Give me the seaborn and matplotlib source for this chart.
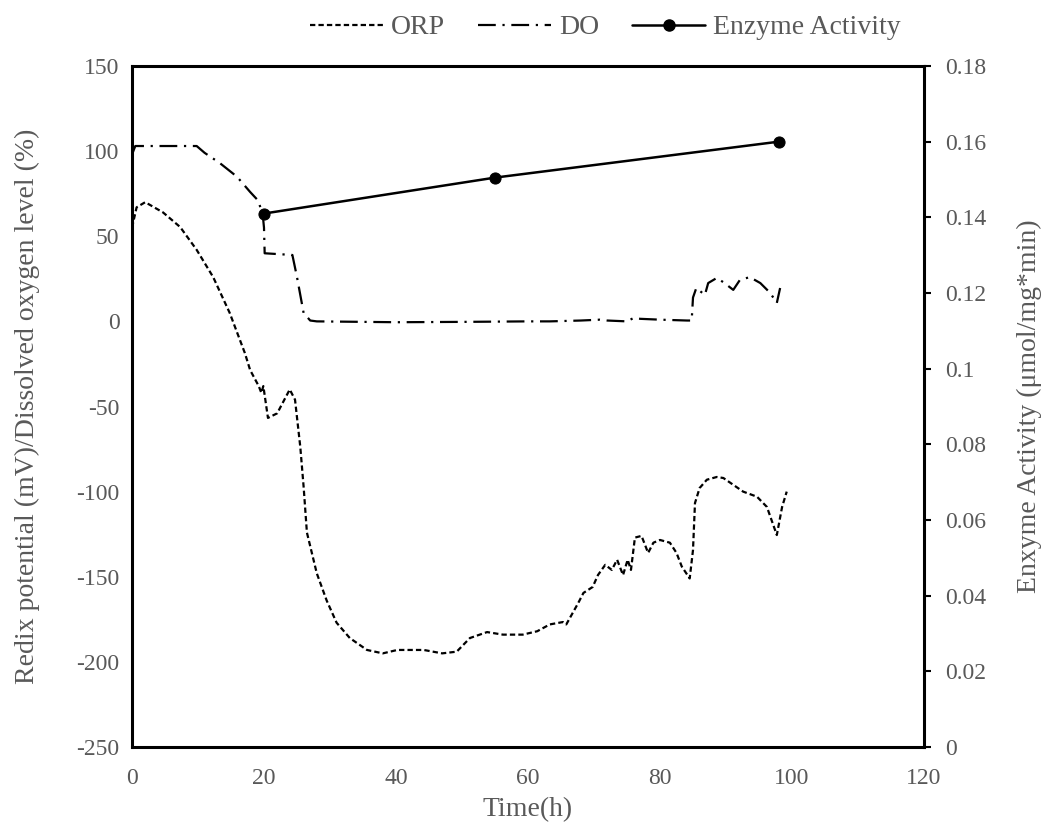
import matplotlib
matplotlib.use("Agg")
import matplotlib.pyplot as plt
import seaborn as sns
import numpy as np
from matplotlib.lines import Line2D

# ---- data ----
orp_t = [0, 0.7, 2, 4.7, 7.3, 9.8, 12.3, 14.8, 17.1, 17.9, 19.2, 19.6, 19.9, 20.6, 22, 23.9, 24.7, 25.5, 26, 26.5,
         28, 29.5, 31, 33, 35.6, 38, 40.2, 44.2, 47, 49.2, 51.2, 53.8, 56.2, 59.2, 61.4, 63.3, 65.3, 65.8, 67.6, 68.4,
         69.8, 70.6, 71.7, 72.7, 73.5, 74.4, 75.1, 75.6, 76.2, 77.2, 78.2, 79, 80, 81.5, 82.5, 83.3, 84.5, 85, 85.3, 86,
         87.1, 88.6, 89.6, 91.1, 92.6, 94.7, 96.2, 97.7, 98.5, 99.2]
orp_v = [55, 67, 70, 64, 55.4, 42, 26, 5, -18.6, -28.6, -38, -42, -38, -56.7, -54, -40, -46, -73.8, -97, -124,
         -148, -164, -177, -186, -193, -195, -193, -193, -195, -194, -186, -182.5, -184, -184, -182, -178, -176.6, -178, -165.5, -159.5,
         -156, -149, -143, -146, -140, -149, -140, -146, -127, -126, -136, -130, -128.4, -130, -136, -144, -151, -134.3, -106.7, -97.9,
         -93, -91.4, -92, -96, -100, -103, -109, -125.5, -109, -100]

do_t = [0, 0.5, 9.8, 11, 13.3, 15.9, 17.9, 19.1, 19.8, 20, 20.1, 24.3, 25, 26, 27, 28, 40, 50, 60, 63.3,
        68, 70.9, 72, 75, 76, 77, 80, 84.1, 84.8, 85, 85.5, 86.8, 87.3, 88.6, 89.6, 91.1, 92.1, 93.6, 95.2, 96.7,
        97.7, 98.2]
do_v = [98, 103, 103, 99, 93, 85, 76, 71, 63, 55, 40, 39, 26, 5, 0.5, 0, -0.5, -0.3, 0, 0,
        0.5, 1, 0.5, 0, 2, 1.5, 1, 0.5, 0.5, 14, 19.6, 15.5, 22.5, 25.5, 23, 18.5, 24.3, 26, 22.5, 16.7,
        10.8, 19.6]

enz_t = [20, 55, 98]
enz_v = [0.141, 0.1505, 0.160]

x_ticks = [0, 20, 40, 60, 80, 100, 120]
left_ticks = [150, 100, 50, 0, -50, -100, -150, -200, -250]
right_ticks = [0, 0.02, 0.04, 0.06, 0.08, 0.1, 0.12, 0.14, 0.16, 0.18]
right_labels = ["0", "0.02", "0.04", "0.06", "0.08", "0.1", "0.12", "0.14", "0.16", "0.18"]

# ---- style ----
sns.set_style("white")
plt.rcParams['font.family'] = ['Liberation Serif', 'DejaVu Serif']
gray = "#595959"

fig = plt.figure(figsize=(10.44, 8.3), dpi=100)
ax = fig.add_axes([132/1044, 83/830, (924-132)/1044, (747-66)/830])
ax2 = ax.twinx()

sns.lineplot(x=orp_t, y=orp_v, ax=ax, estimator=None, sort=False, color="black", lw=1.6)
ax.lines[-1].set_dashes((2.4, 1.4))
sns.lineplot(x=do_t, y=do_v, ax=ax, estimator=None, sort=False, color="black", lw=1.6)
ax.lines[-1].set_dashes((8, 3, 1, 3))
sns.lineplot(x=enz_t, y=enz_v, ax=ax2, estimator=None, sort=False, color="black", lw=1.8,
             marker="o", markersize=8, markeredgecolor="black")

ax.set_xlim(0, 120)
ax.set_ylim(-250, 150)
ax2.set_ylim(0, 0.18)
ax.set_xticks(x_ticks)
ax.set_xticklabels([str(v) for v in x_ticks])
ax.set_yticks(left_ticks)
ax.set_yticklabels([str(v) for v in left_ticks])
ax2.set_yticks(right_ticks)
ax2.set_yticklabels(right_labels)

for a in (ax, ax2):
    for s in a.spines.values():
        s.set_visible(False)
ax.spines['left'].set_visible(True)
ax.spines['bottom'].set_visible(True)
ax2.spines['right'].set_visible(True)
ax2.spines['top'].set_visible(True)
for s in (ax.spines['left'], ax.spines['bottom'], ax2.spines['right'], ax2.spines['top']):
    s.set_color("black")
    s.set_linewidth(2.2)

ax.tick_params(axis='both', length=0, labelsize=17, colors=gray, pad=9)
ax.tick_params(axis='x', pad=15)
ax2.tick_params(axis='y', length=5, width=1.5, color="black", labelsize=17, labelcolor=gray, direction='out', pad=10)

ax.set_xlabel("Time(h)", fontsize=20, color=gray, labelpad=6)
ax.set_ylabel("Redix potential (mV)/Dissolved oxygen level (%)", fontsize=20, color=gray, labelpad=26)
ax2.set_ylabel("Enxyme Activity (\u03bcmol/mg*min)", fontsize=20, color=gray, labelpad=22)

handles = [
    Line2D([], [], color="black", lw=1.6, dashes=(2.4, 1.4)),
    Line2D([], [], color="black", lw=1.6, dashes=(8, 3, 1, 3)),
    Line2D([], [], color="black", lw=1.8, marker="o", markersize=8),
]
leg = fig.legend(handles, ["ORP", "DO", "Enzyme Activity"], loc="upper center",
                 bbox_to_anchor=(0.58, 1.012), ncol=3, frameon=False, fontsize=20,
                 handlelength=2.6, columnspacing=1.2, handletextpad=0.3)
for t in leg.get_texts():
    t.set_color(gray)

fig.savefig("out.png", dpi=100, facecolor="white")
